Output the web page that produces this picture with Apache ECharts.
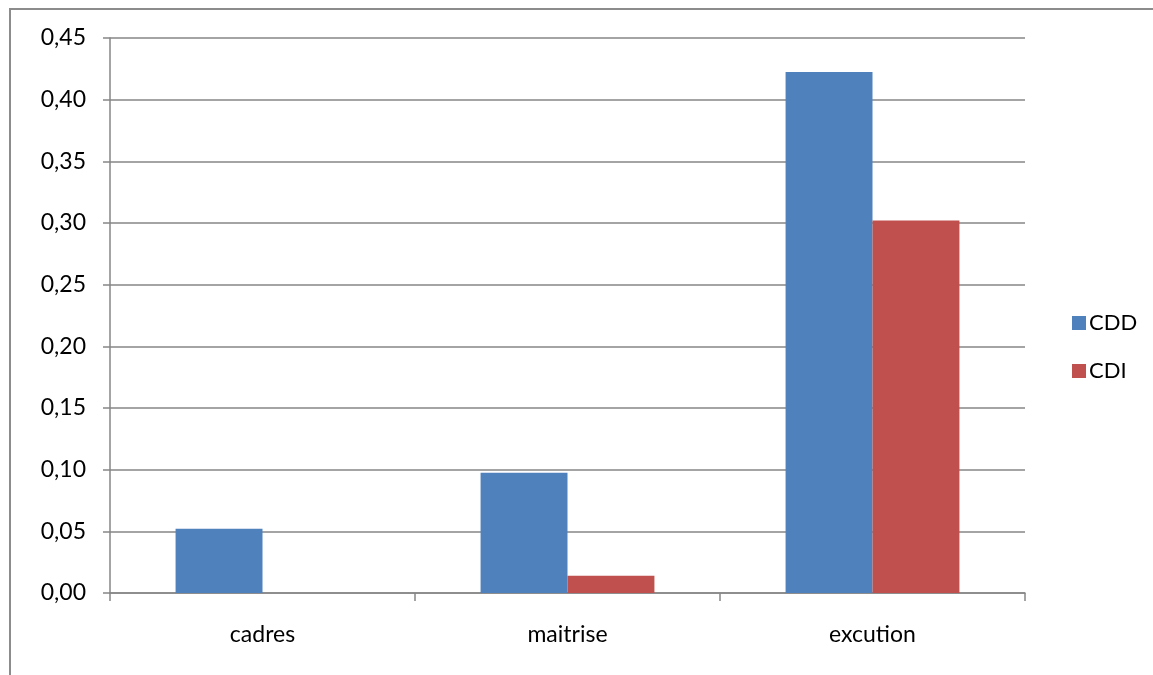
<!DOCTYPE html>
<html>
<head>
<meta charset="utf-8">
<script src="https://cdn.jsdelivr.net/npm/echarts@6/dist/echarts.min.js"></script>
<style>
  html, body { margin: 0; padding: 0; background: #fff; }
  #main { width: 1153px; height: 675px; }
</style>
</head>
<body>
<div id="main"></div>
<script>
// categories and series
const categories = ['cadres', 'maitrise', 'excution'];
const cddValues = [0.052, 0.0975, 0.4225];
const cdiValues = [0, 0.014, 0.302];
const yTicks = { min: 0, max: 0.45, step: 0.05 };

const axisGray = '#868686';
const font = 'Lato, Open Sans, sans-serif';

const chart = echarts.init(document.getElementById('main'));
const option = {
  animation: false,
  backgroundColor: '#fff',
  textStyle: { fontFamily: font },
  graphic: [
    {
      type: 'rect',
      shape: { x: 10, y: 9, width: 1160, height: 700 },
      style: { fill: 'none', stroke: '#8c8c8c', lineWidth: 2 },
      silent: true
    }
  ],
  grid: { left: 110, right: 128, top: 38, bottom: 82 },
  legend: {
    orient: 'vertical',
    left: 1067,
    top: 307,
    itemWidth: 14,
    itemHeight: 14,
    itemGap: 26,
    icon: 'rect',
    textStyle: { fontSize: 22, color: '#000', fontFamily: font, padding: [0, 0, 0, -2] },
    data: ['CDD', 'CDI']
  },
  xAxis: {
    type: 'category',
    data: categories,
    axisLine: { lineStyle: { color: axisGray, width: 1.5 } },
    axisTick: { show: true, length: 8, alignWithLabel: false, lineStyle: { color: axisGray, width: 1.5 } },
    axisLabel: { color: '#000', fontSize: 23, margin: 30, fontFamily: font }
  },
  yAxis: {
    type: 'value',
    min: yTicks.min,
    max: yTicks.max,
    interval: yTicks.step,
    axisLine: { show: true, lineStyle: { color: axisGray, width: 1.5 } },
    axisTick: { show: true, length: 7, lineStyle: { color: axisGray, width: 1.5 } },
    axisLabel: {
      color: '#000',
      fontSize: 23,
      margin: 24,
      fontFamily: font,
      formatter: (v) => v.toFixed(2).replace('.', ',')
    },
    splitLine: { lineStyle: { color: axisGray, width: 1.5 } }
  },
  series: [
    {
      name: 'CDD',
      type: 'bar',
      data: cddValues,
      itemStyle: { color: '#4F81BD' },
      barGap: '0%',
      barCategoryGap: '43%'
    },
    {
      name: 'CDI',
      type: 'bar',
      data: cdiValues,
      itemStyle: { color: '#C0504D' },
      barGap: '0%',
      barCategoryGap: '43%'
    }
  ]
};
chart.setOption(option);
</script>
</body>
</html>
